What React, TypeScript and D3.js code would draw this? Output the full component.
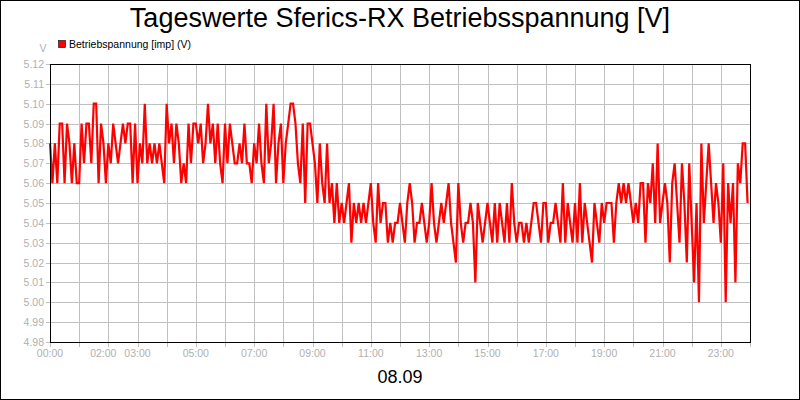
import React from "react";
import * as d3 from "d3";

// 5-minute readings, 08.09, 00:00 .. 23:55
const voltage = [
  5.08, 5.06, 5.08, 5.06, 5.09, 5.09, 5.06, 5.09, 5.08, 5.06,
  5.08, 5.06, 5.06, 5.09, 5.07, 5.09, 5.09, 5.07, 5.10, 5.10,
  5.06, 5.09, 5.08, 5.06, 5.08, 5.07, 5.09, 5.08, 5.07, 5.08,
  5.09, 5.08, 5.09, 5.09, 5.06, 5.09, 5.06, 5.08, 5.07, 5.10,
  5.07, 5.08, 5.07, 5.08, 5.07, 5.08, 5.07, 5.06, 5.10,
  5.08, 5.09, 5.07, 5.09, 5.08, 5.06, 5.07, 5.06, 5.09, 5.07,
  5.09, 5.09, 5.08, 5.09, 5.07, 5.08, 5.10, 5.08, 5.09, 5.07,
  5.09, 5.07, 5.06, 5.09, 5.07, 5.09, 5.08, 5.07, 5.07, 5.08,
  5.07, 5.09, 5.07, 5.07, 5.06, 5.08, 5.07, 5.09, 5.07, 5.06,
  5.10, 5.07, 5.08, 5.10, 5.06, 5.08, 5.09, 5.06, 5.08,
  5.09, 5.10, 5.10, 5.09, 5.07, 5.06, 5.09, 5.05, 5.09, 5.09,
  5.08, 5.07, 5.05, 5.08, 5.06, 5.05, 5.08, 5.05, 5.06, 5.04,
  5.06, 5.04, 5.05, 5.04, 5.05, 5.06, 5.03, 5.05, 5.04, 5.05,
  5.04, 5.05, 5.04, 5.05, 5.06, 5.04, 5.03, 5.06, 5.04, 5.05,
  5.05, 5.03, 5.04, 5.03, 5.04, 5.04,
  5.05, 5.04, 5.03, 5.05, 5.06, 5.05, 5.03, 5.04, 5.04, 5.05,
  5.04, 5.03, 5.04, 5.06, 5.04, 5.03, 5.04, 5.05, 5.04, 5.05,
  5.06, 5.04, 5.03, 5.02, 5.06, 5.04, 5.03, 5.04, 5.04, 5.05,
  5.04, 5.01, 5.05, 5.04, 5.03, 5.04, 5.05, 5.04, 5.03, 5.05,
  5.03, 5.05, 5.04, 5.03, 5.05, 5.03, 5.06, 5.04,
  5.03, 5.04, 5.04, 5.03, 5.04, 5.03, 5.04, 5.05, 5.05, 5.04,
  5.03, 5.05, 5.05, 5.03, 5.04, 5.04, 5.05, 5.04, 5.03, 5.06,
  5.03, 5.05, 5.04, 5.03, 5.05, 5.03, 5.06, 5.03, 5.05, 5.04,
  5.03, 5.02, 5.05, 5.04, 5.03, 5.05, 5.04, 5.05, 5.05, 5.05,
  5.03, 5.05, 5.06, 5.05, 5.06, 5.05, 5.06,
  5.05, 5.04, 5.05, 5.04, 5.06, 5.06, 5.03, 5.06, 5.05, 5.07,
  5.04, 5.08, 5.04, 5.05, 5.06, 5.05, 5.02, 5.06, 5.07, 5.05,
  5.03, 5.07, 5.05, 5.02, 5.07, 5.04, 5.01, 5.05, 5.00, 5.08,
  5.04, 5.06, 5.08, 5.06, 5.04, 5.06, 5.05, 5.03, 5.07, 5.00,
  5.06, 5.04, 5.06, 5.01, 5.07, 5.06, 5.08, 5.08, 5.05,
];
const stepMinutes = 5;

const yTicks = [4.98, 4.99, 5.0, 5.01, 5.02, 5.03, 5.04, 5.05, 5.06, 5.07, 5.08, 5.09, 5.1, 5.11, 5.12];
const hourTicks = d3.range(0, 25);
const labelHours = [0, 2, 3, 5, 7, 9, 11, 13, 15, 17, 19, 21, 23];

const title = "Tageswerte Sferics-RX Betriebsspannung [V]";
const seriesName = "Betriebspannung [imp] (V)";
const dateLabel = "08.09";

const W = 800;
const H = 400;
const m = { top: 64, right: 50, bottom: 58, left: 50 };
const font = "'Liberation Sans', Arial, sans-serif";
const gray = "#b0b0b0";

const pad = (n: number) => String(n).padStart(2, "0") + ":00";

export default function App() {
  const x = d3.scaleLinear().domain([0, 24]).range([m.left, W - m.right]);
  const y = d3.scaleLinear().domain([4.98, 5.12]).range([H - m.bottom, m.top]);

  const line = d3
    .line<number>()
    .x((_, i) => x((i * stepMinutes) / 60))
    .y((d) => y(d));

  const x0 = m.left;
  const x1 = W - m.right;
  const y0 = H - m.bottom;
  const y1 = m.top;

  return (
    <div style={{ position: "absolute", left: 0, top: 0 }}>
      <svg width={W} height={H} style={{ display: "block", fontFamily: font }}>
        <rect x={0} y={0} width={W} height={H} fill="#fff" />
        <rect x={0.5} y={0.5} width={W - 1} height={H - 1} fill="none" stroke="#000" />

        <text x={W / 2} y={27} textAnchor="middle" fontSize={27} fill="#000">
          {title}
        </text>

        {/* legend */}
        <rect x={58.5} y={40.5} width={7} height={7} fill="#ff0000" stroke="#000" strokeWidth={0.6} />
        <text x={69} y={48} fontSize={10.5} fill="#000">
          {seriesName}
        </text>
        <text x={43} y={52} textAnchor="middle" fontSize={10.5} fill={gray}>
          V
        </text>

        {/* grid */}
        {yTicks.map((t) => (
          <g key={"y" + t}>
            <line x1={x0 - 4} x2={x1} y1={Math.round(y(t)) + 0.5} y2={Math.round(y(t)) + 0.5} stroke="#c0c0c0" />
            <text x={44} y={Math.round(y(t)) + 4} textAnchor="end" fontSize={10.5} fill={gray}>
              {t.toFixed(2)}
            </text>
          </g>
        ))}
        {hourTicks.map((h) => (
          <line
            key={"x" + h}
            x1={Math.round(x(h)) + 0.5}
            x2={Math.round(x(h)) + 0.5}
            y1={y1}
            y2={y0 + 5}
            stroke="#c0c0c0"
          />
        ))}
        {labelHours.map((h) => (
          <text
            key={"l" + h}
            x={x(h) + (h === 2 ? -5 : 0)}
            y={357}
            textAnchor="middle"
            fontSize={10.5}
            fill={gray}
          >
            {pad(h)}
          </text>
        ))}

        {/* series */}
        <path d={line(voltage) ?? ""} fill="none" stroke="#ff0000" strokeWidth={2.2} strokeLinejoin="miter" />

        {/* frame */}
        <rect x={x0 + 0.5} y={y1 + 0.5} width={x1 - x0} height={y0 - y1} fill="none" stroke="#000" />

        <text x={W / 2} y={383} textAnchor="middle" fontSize={18} fill="#000">
          {dateLabel}
        </text>
      </svg>
    </div>
  );
}
